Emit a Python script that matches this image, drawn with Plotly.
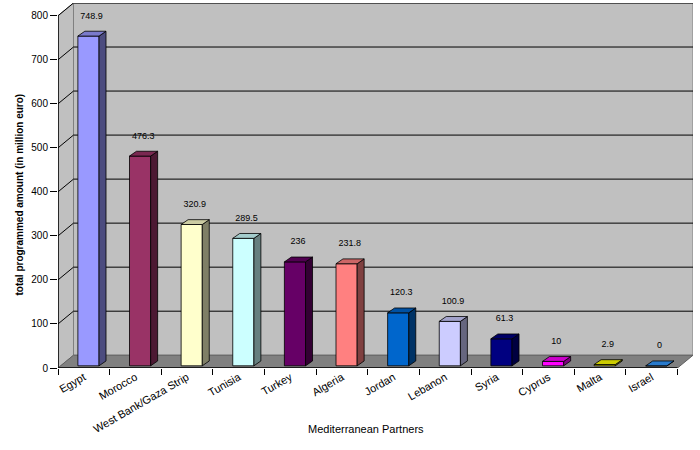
import plotly.graph_objects as go

# data
partners = ["Egypt", "Morocco", "West Bank/Gaza Strip", "Tunisia", "Turkey", "Algeria",
            "Jordan", "Lebanon", "Syria", "Cyprus", "Malta", "Israel"]
amounts = [748.9, 476.3, 320.9, 289.5, 236, 231.8, 120.3, 100.9, 61.3, 10, 2.9, 0]
labels = ["748.9", "476.3", "320.9", "289.5", "236", "231.8", "120.3", "100.9", "61.3", "10", "2.9", "0"]
colors = ["#9999ff", "#993366", "#ffffcc", "#ccffff", "#660066", "#ff8080",
          "#0066cc", "#ccccff", "#000080", "#ff00ff", "#ffff00", "#3399ff"]
yticks = [0, 100, 200, 300, 400, 500, 600, 700, 800]

# fake 3d geometry (in data units)
DX, DY = 0.3, 29        # depth of the walls
BDX, BDY = 0.135, 11    # depth of each column
BOFF, YOFF, BW = 0.09, 5, 0.41

# plot area in pixels
L, R, T, B = 58, 7, 3, 82
PW, PH = 700 - L - R, 450 - T - B


def shade(hexcol, f):
    r, g, b = (int(hexcol[i:i + 2], 16) for i in (1, 3, 5))
    return "rgb(%d,%d,%d)" % (r * f, g * f, b * f)


n = len(partners)
xs = [i + BOFF for i in range(n)]
fig = go.Figure()

# front faces
fig.add_trace(go.Bar(x=xs, y=amounts, base=[YOFF] * n, width=BW,
                     marker=dict(color=colors, line=dict(color="black", width=0.8)),
                     hoverinfo="skip"))

# side and top faces
for x, v, c in zip(xs, amounts, colors):
    xl, xr = x - BW / 2, x + BW / 2
    top = YOFF + v
    fig.add_trace(go.Scatter(x=[xr, xr + BDX, xr + BDX, xr, xr],
                             y=[YOFF, YOFF + BDY, top + BDY, top, YOFF],
                             fill="toself", fillcolor=shade(c, 0.5), mode="lines",
                             line=dict(color="black", width=0.8), hoverinfo="skip"))
    fig.add_trace(go.Scatter(x=[xl, xr, xr + BDX, xl + BDX, xl],
                             y=[top, top, top + BDY, top + BDY, top],
                             fill="toself", fillcolor=shade(c, 0.8), mode="lines",
                             line=dict(color="black", width=0.8), hoverinfo="skip"))

# value labels
fig.add_trace(go.Scatter(x=[x + 0.06 for x in xs], y=[v + 50 for v in amounts],
                         text=labels, mode="text", textfont=dict(size=9, color="black"),
                         hoverinfo="skip"))

x0, x1 = -0.5, n - 0.5
shapes = [
    # back wall
    dict(type="rect", x0=x0 + DX, x1=x1 + DX, y0=DY, y1=800 + DY, fillcolor="#c0c0c0",
         line=dict(color="#808080", width=1), layer="below"),
    # left wall
    dict(type="path", path="M %f,0 L %f,%f L %f,%f L %f,800 Z" % (x0, x0 + DX, DY, x0 + DX, 800 + DY, x0),
         fillcolor="#c0c0c0", line=dict(color="#808080", width=1), layer="below"),
    # floor
    dict(type="path", path="M %f,0 L %f,0 L %f,%f L %f,%f Z" % (x0, x1, x1 + DX, DY, x0 + DX, DY),
         fillcolor="#808080", line=dict(color="#606060", width=1), layer="below"),
]
for t in yticks[1:]:
    shapes.append(dict(type="line", x0=x0 + DX, x1=x1 + DX, y0=t + DY, y1=t + DY,
                       line=dict(color="black", width=1), layer="below"))
    shapes.append(dict(type="line", x0=x0, x1=x0 + DX, y0=t, y1=t + DY,
                       line=dict(color="black", width=1), layer="below"))
# front axis lines
shapes.append(dict(type="line", x0=x0, x1=x1, y0=0, y1=0, line=dict(color="black", width=1.5)))
shapes.append(dict(type="line", x0=x0, x1=x0, y0=0, y1=800, line=dict(color="black", width=1.5)))

fig.update_layout(
    width=700, height=450,
    margin=dict(l=L, r=R, t=T, b=B),
    paper_bgcolor="white", plot_bgcolor="white",
    showlegend=False, barmode="overlay",
    font=dict(family="Liberation Sans, Arial, sans-serif", size=9, color="black"),
    shapes=shapes,
    xaxis=dict(range=[x0, x1 + DX], tickvals=list(range(n)), ticktext=partners,
               tickangle=-30, ticks="", showgrid=False, zeroline=False, showline=False,
               tickfont=dict(size=11), automargin=False,
               minor=dict(tick0=-0.5, dtick=1, ticks="outside", ticklen=6,
                          tickcolor="black", showgrid=False)),
    yaxis=dict(range=[0, 800 + DY], tickvals=yticks, ticks="outside", ticklen=7,
               tickcolor="black", showgrid=False, zeroline=False, showline=False,
               tickfont=dict(size=10), automargin=False),
    annotations=[
        dict(text="Mediterranean Partners", x=(366 - L) / PW, y=(450 - B - 437) / PH,
             xref="paper", yref="paper", showarrow=False, font=dict(size=11)),
        dict(text="<b>total programmed amount (in million euro)</b>", x=(11 - L) / PW,
             y=(450 - B - 195) / PH, xref="paper", yref="paper", textangle=-90,
             showarrow=False, font=dict(size=10)),
    ],
)

# the page's default body margin would push the chart 8px off
fig.write_html("out.html", config={"displayModeBar": False},
               post_script="document.body.style.margin='0';")
